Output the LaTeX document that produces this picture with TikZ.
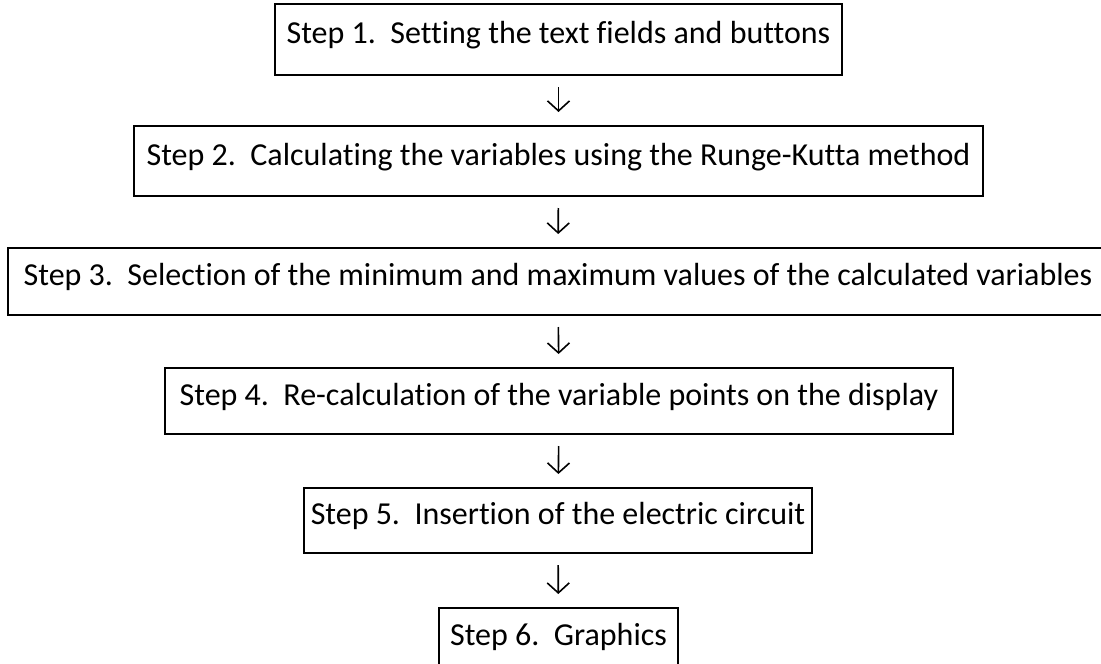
\documentclass[tikz,border=0pt]{standalone}
\usepackage{fontspec}
\setmainfont{Carlito}[Ligatures=NoCommon]
\usetikzlibrary{arrows.meta}
\begin{document}
\begin{tikzpicture}[x=0.75pt,y=-0.75pt,
  stepbox/.style={draw,line width=1.3pt,inner sep=0pt,outer sep=0pt,
    font=\fontsize{24}{29}\selectfont,text height=0.75em,text depth=0.106em},
  arr/.style={line width=1.2pt,
    -{Straight Barb[length=7.5pt,width=16.5pt,line width=1.2pt]},
    shorten <=9pt,shorten >=10.5pt}]
\useasboundingbox (0,0) rectangle (1101,664);
\node[stepbox,minimum width=425.25pt,minimum height=53.25pt] (b1) at (558.5,39.5)
  {Step 1.\ \ Setting the text fields and buttons};
\node[stepbox,minimum width=636.75pt,minimum height=52.5pt] (b2) at (558.5,161)
  {Step 2.\ \ Calculating the variables using the Runge-Kutta method};
\node[stepbox,minimum width=825pt,minimum height=50.25pt] (b3) at (558,281.5)
  {Step 3.\ \ Selection of the minimum and maximum values of the calculated variables};
\node[stepbox,minimum width=591pt,minimum height=49.5pt] (b4) at (559,401)
  {Step 4.\ \ Re-calculation of the variable points on the display};
\node[stepbox,minimum width=381pt,minimum height=48.75pt] (b5) at (558,520.5)
  {Step 5.\ \ Insertion of the electric circuit};
\node[stepbox,minimum width=179.25pt,minimum height=49.5pt] (b6) at (558.5,641)
  {Step 6.\ \ Graphics};
\draw[arr] (b1) -- (b2);
\draw[arr] (b2) -- (b3);
\draw[arr] (b3) -- (b4);
\draw[arr] (b4) -- (b5);
\draw[arr] (b5) -- (b6);
\end{tikzpicture}
\end{document}
